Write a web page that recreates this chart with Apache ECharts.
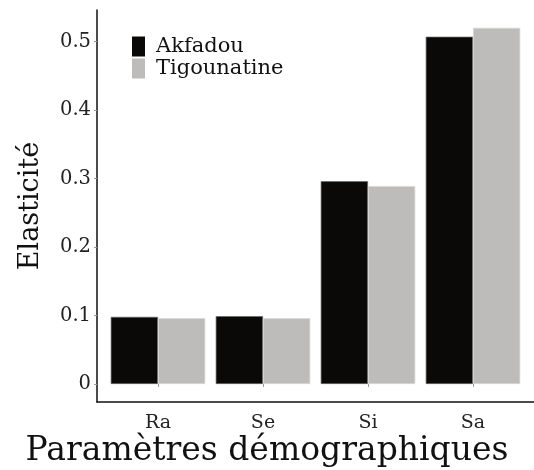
<!DOCTYPE html>
<html>
<head>
<meta charset="utf-8">
<script src="https://cdn.jsdelivr.net/npm/echarts@6/dist/echarts.min.js"></script>
<style>html,body{margin:0;padding:0;background:#fff}#c{width:534px;height:470px}</style>
</head>
<body>
<div id="c"></div>
<script>
const categories = ['Ra', 'Se', 'Si', 'Sa'];
const seriesNames = ['Akfadou', 'Tigounatine'];
const akfadou = [0.098, 0.099, 0.296, 0.507];
const tigounatine = [0.096, 0.096, 0.289, 0.520];
const yTicks = [0, 0.1, 0.2, 0.3, 0.4, 0.5];
const xTitle = 'Paramètres démographiques';
const yTitle = 'Elasticité';

const FONT = 'DejaVu Serif';
const chart = echarts.init(document.getElementById('c'));
chart.setOption({
  backgroundColor: '#fff',
  animation: false,
  title: {
    text: xTitle, left: 'center', top: 430,
    textStyle: { fontFamily: FONT, fontSize: 33, fontWeight: 'normal', color: '#111' }
  },
  legend: {
    data: seriesNames, orient: 'vertical', left: 132, top: 36, padding: 0,
    itemWidth: 13, itemHeight: 20, itemGap: 1, icon: 'rect',
    itemStyle: { borderWidth: 0 },
    textStyle: { fontFamily: FONT, fontSize: 21, color: '#111', padding: [0, 0, 0, 6] }
  },
  grid: [
    { left: 105.5, width: 420, top: 10, bottom: 68 },
    { left: 97, right: -5, top: 10, bottom: 68 }
  ],
  xAxis: [
    {
      type: 'category', data: categories, gridIndex: 0,
      axisLine: { show: false },
      axisTick: { show: true, alignWithLabel: true, length: 3, lineStyle: { color: '#999' } },
      axisLabel: { fontFamily: FONT, fontSize: 19, color: '#222', margin: 12 }
    },
    {
      type: 'value', gridIndex: 1, min: 0, max: 1,
      axisLine: { show: true, lineStyle: { color: '#111', width: 1.5 } },
      axisTick: { show: false }, axisLabel: { show: false }, splitLine: { show: false }
    }
  ],
  yAxis: [
    {
      type: 'value', gridIndex: 0, min: -0.0263, max: 0.546, offset: 8.5,
      name: yTitle, nameLocation: 'middle', nameGap: 53,
      nameTextStyle: { fontFamily: FONT, fontSize: 27, color: '#111' },
      axisLine: { show: true, lineStyle: { color: '#111', width: 1.5 } },
      axisTick: { show: true, customValues: yTicks, length: 3, lineStyle: { color: '#999' } },
      axisLabel: { customValues: yTicks, fontFamily: FONT, fontSize: 19.5, color: '#222', margin: 6,
        formatter: v => (Math.abs(v) < 1e-9 ? '0' : v.toFixed(1)) },
      splitLine: { show: false }
    },
    {
      type: 'value', gridIndex: 1, show: false
    }
  ],
  series: [
    {
      name: seriesNames[0], type: 'bar', xAxisIndex: 0, yAxisIndex: 0, data: akfadou,
      barGap: '0%', barCategoryGap: '10%',
      itemStyle: { color: '#0a0908', borderColor: '#666', borderWidth: 0.7 }
    },
    {
      name: seriesNames[1], type: 'bar', xAxisIndex: 0, yAxisIndex: 0, data: tigounatine,
      barGap: '0%', barCategoryGap: '10%',
      itemStyle: { color: '#bdbcbb', borderColor: '#d8d8d8', borderWidth: 0.7 }
    }
  ]
});
</script>
</body>
</html>
